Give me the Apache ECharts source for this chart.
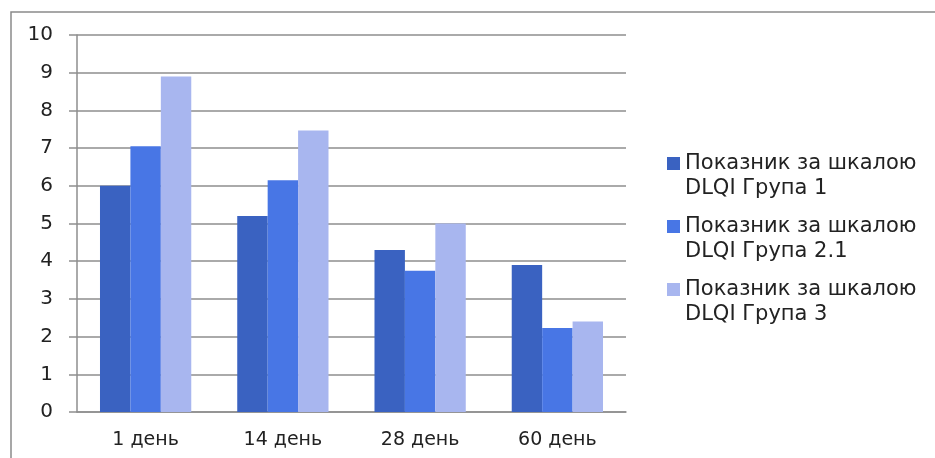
<!DOCTYPE html>
<html>
<head>
<meta charset="utf-8">
<script src="https://cdn.jsdelivr.net/npm/echarts@6/dist/echarts.min.js"></script>
<style>
  html, body { margin: 0; padding: 0; background: #fff; }
  #chart { width: 935px; height: 458px; }
</style>
</head>
<body>
<div id="chart"></div>
<script>
// Days of observation
const categories = ['1 день', '14 день', '28 день', '60 день'];

// Mean DLQI score per group
const seriesNames = [
  'Показник за шкалою\nDLQI Група 1',
  'Показник за шкалою\nDLQI Група 2.1',
  'Показник за шкалою\nDLQI Група 3'
];
const group1 = [6.0, 5.2, 4.3, 3.9];
const group21 = [7.05, 6.15, 3.75, 2.23];
const group3 = [8.9, 7.47, 5.0, 2.4];

const colors = ['#3A62C1', '#4876E5', '#A8B6EF'];
const gridColor = '#8e8e8e';
const textColor = '#222';
const fontFamily = 'DejaVu Sans';

const chart = echarts.init(document.getElementById('chart'), null, { renderer: 'canvas' });

const values = [group1, group21, group3];

chart.setOption({
  animation: false,
  color: colors,
  graphic: [{
    type: 'rect',
    shape: { x: 11, y: 12, width: 940, height: 470 },
    style: { fill: 'none', stroke: '#8a8a8a', lineWidth: 1.5 },
    silent: true
  }],
  grid: { left: 77, right: 309, top: 35, bottom: 46 },
  legend: {
    orient: 'vertical',
    left: 667,
    top: 126,
    padding: 0,
    itemWidth: 13,
    itemHeight: 13,
    itemGap: -12,
    icon: 'rect',
    // leading blank line keeps the swatch level with the first text line
    formatter: name => '\n' + name,
    textStyle: {
      fontFamily: fontFamily,
      fontSize: 21,
      color: textColor,
      lineHeight: 25
    },
    data: seriesNames
  },
  xAxis: {
    type: 'category',
    data: categories,
    axisLine: { lineStyle: { color: gridColor, width: 1.5 } },
    axisTick: { length: 8, lineStyle: { color: gridColor, width: 1.5 } },
    axisLabel: { margin: 19, fontFamily: fontFamily, fontSize: 19, color: textColor }
  },
  yAxis: {
    type: 'value',
    min: 0,
    max: 10,
    interval: 1,
    axisLine: { show: true, lineStyle: { color: gridColor, width: 1.5 } },
    axisTick: { show: true, length: 8, lineStyle: { color: gridColor, width: 1.5 } },
    splitLine: { lineStyle: { color: gridColor, width: 1.5 } },
    axisLabel: { margin: 24, fontFamily: fontFamily, fontSize: 20, color: textColor }
  },
  series: seriesNames.map((name, i) => ({
    name: name,
    type: 'bar',
    data: values[i],
    barGap: '0%',
    barCategoryGap: '33.5%',
    itemStyle: { color: colors[i] }
  }))
});
</script>
</body>
</html>
